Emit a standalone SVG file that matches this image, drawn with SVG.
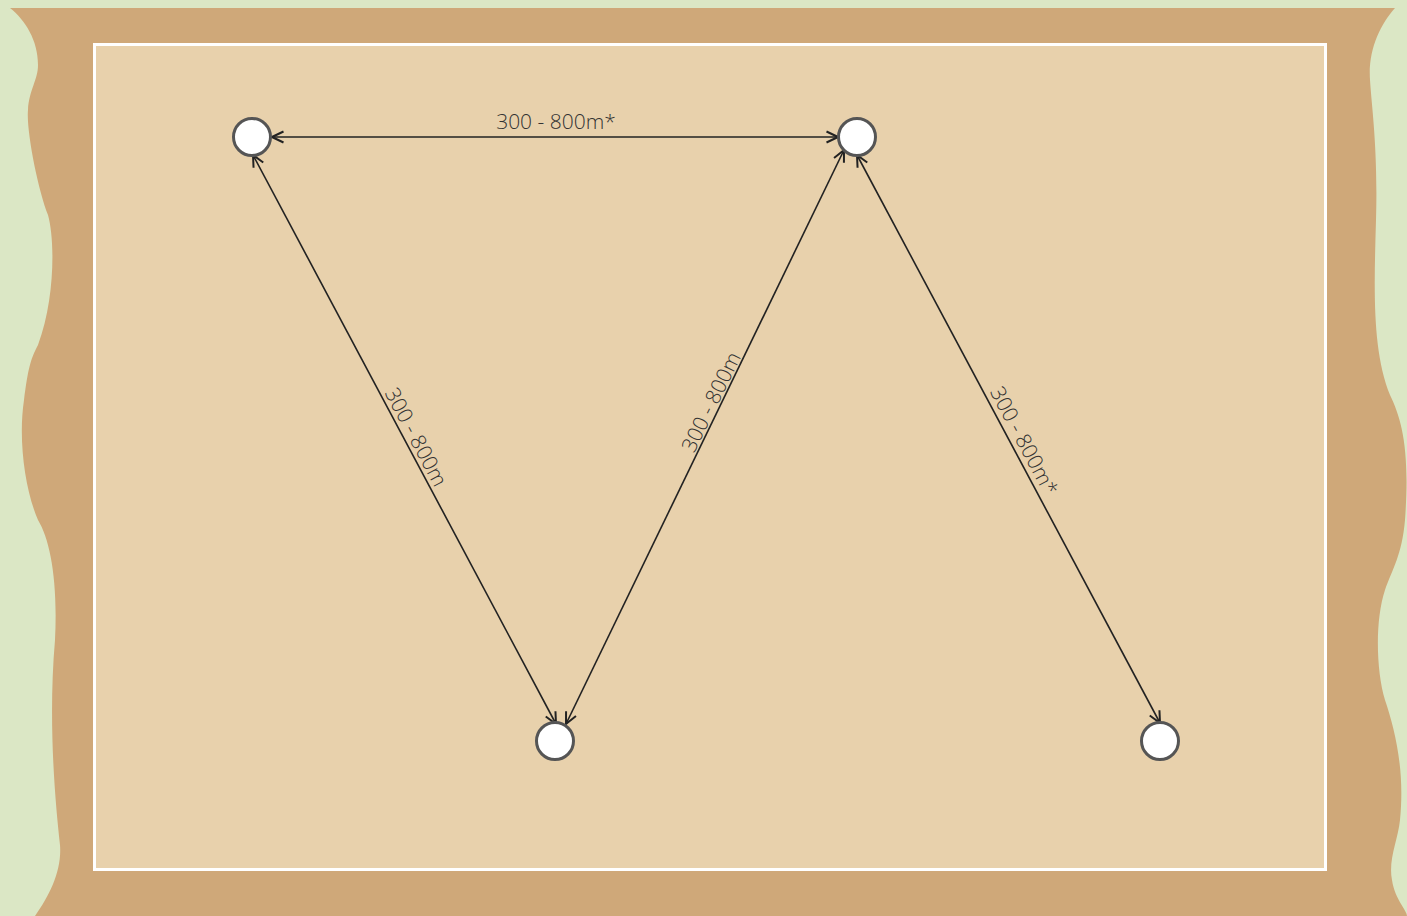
<svg xmlns="http://www.w3.org/2000/svg" width="1407" height="916" viewBox="0 0 1407 916">
<defs>
<style>
.node{fill:#ffffff;stroke:#555555;stroke-width:3}
.edge{stroke:#222222;stroke-width:1.6;fill:none;marker-start:url(#ah);marker-end:url(#ah)}
.lbl{font-family:"Open Sans","Noto Sans",sans-serif;font-weight:300;font-size:21px;fill:#333333;text-anchor:middle}
</style>
<marker id="ah" viewBox="0 0 14 14" refX="13" refY="7" markerWidth="14" markerHeight="14" markerUnits="userSpaceOnUse" orient="auto-start-reverse">
<path d="M1.5,1.5 L13,7 L1.5,12.5" fill="none" stroke="#222222" stroke-width="2"/>
</marker>
</defs>
<rect x="0" y="0" width="1407" height="916" fill="#dbe7c5"/>
<path d="M10,8 L1395,8 C1380,25 1368,50 1370,80 C1372,110 1378,150 1376,220 C1374,290 1372,350 1390,395 C1402,420 1410,450 1405,520 C1402,555 1392,570 1385,590 C1375,620 1376,670 1385,700 C1395,730 1405,770 1400,820 C1398,840 1388,860 1392,880 C1395,900 1407,910 1407,916 L35,916 C50,895 62,870 60,845 C55,800 48,720 55,640 C58,580 50,540 38,520 C25,490 18,440 24,400 C28,370 30,360 38,345 C55,300 55,240 48,215 C38,190 26,130 28,110 C29,90 38,80 38,65 C38,40 25,20 10,8 Z" fill="#cfa879"/>
<rect x="94.5" y="44.5" width="1231" height="825" fill="#e8d1ac" stroke="#ffffff" stroke-width="3"/>
<g id="connectors">
<line class="edge" x1="272" y1="137" x2="838" y2="137"/>
<line class="edge" x1="253" y1="155" x2="556" y2="724"/>
<line class="edge" x1="566" y1="724" x2="844" y2="150"/>
<line class="edge" x1="857" y1="155" x2="1160" y2="723"/>
<text class="lbl" x="556" y="122" dy="0.35em">300 - 800m*</text>
<text class="lbl" x="416" y="437" dy="0.35em" transform="rotate(62 416 437)">300 - 800m</text>
<text class="lbl" x="711" y="402" dy="0.35em" transform="rotate(-64 711 402)">300 - 800m</text>
<text class="lbl" x="1024" y="441" dy="0.35em" transform="rotate(62 1024 441)">300 - 800m*</text>
</g>
<g id="n1"><circle class="node" cx="252" cy="137" r="18.5"/></g>
<g id="n2"><circle class="node" cx="857" cy="137" r="18.5"/></g>
<g id="n3"><circle class="node" cx="555" cy="741" r="18.5"/></g>
<g id="n4"><circle class="node" cx="1160" cy="741" r="18.5"/></g>
</svg>
